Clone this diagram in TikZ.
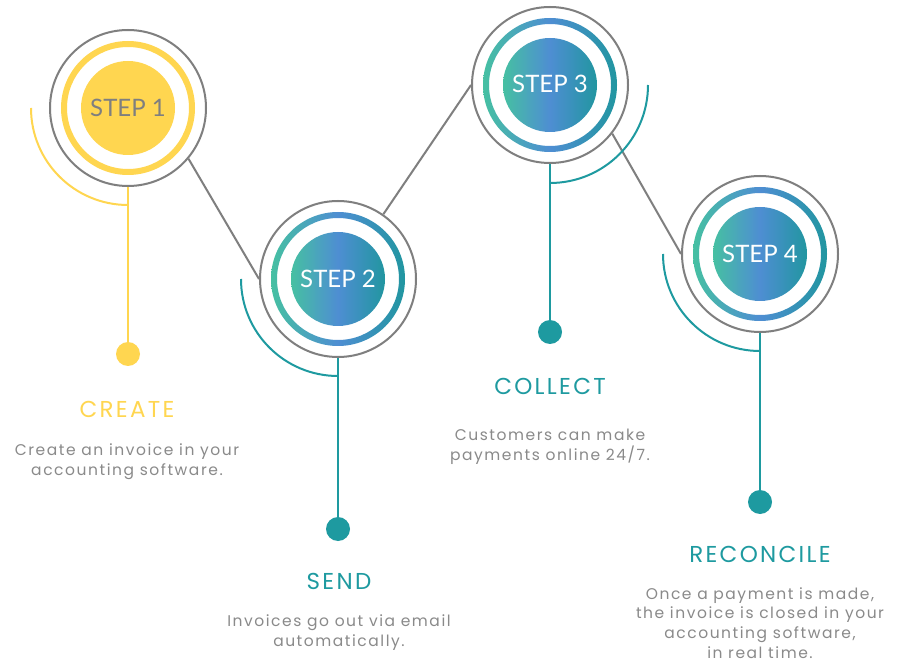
\documentclass[tikz,border=0pt]{standalone}
\usepackage{fontspec}
\setmainfont{Poppins}
\newfontfamily\stepfont{Lato}
\newfontfamily\bodyfont[LetterSpace=10]{Poppins}
\newfontfamily\titlefont[LetterSpace=10]{Poppins}
\definecolor{yel}{HTML}{FFD650}
\definecolor{tealc}{HTML}{1E9AA0}
\definecolor{ringgray}{HTML}{7F7F7F}
\definecolor{txtgray}{HTML}{8A8A8A}
\definecolor{gL}{HTML}{46C0A2}
\definecolor{gM}{HTML}{4E8ED2}
\definecolor{gR}{HTML}{2196A0}
\pgfdeclarehorizontalshading{stepgrad}{100bp}{color(0bp)=(gL); color(25bp)=(gL); color(50bp)=(gM); color(75bp)=(gR); color(100bp)=(gR)}
\begin{document}
\begin{tikzpicture}[x=1pt,y=1pt,
  outer/.style={circle, draw=ringgray, line width=2pt, minimum size=156pt, inner sep=0pt},
  conn/.style={draw=ringgray, line width=2pt},
  yline/.style={draw=yel, line width=2pt},
  tline/.style={draw=tealc, line width=2pt},
  ydot/.style={circle, fill=yel, minimum size=24pt, inner sep=0pt},
  tdot/.style={circle, fill=tealc, minimum size=24pt, inner sep=0pt},
  steplabel/.style={font={\stepfont\fontsize{24}{28}\selectfont}, inner sep=0pt},
  title/.style={font={\titlefont\fontsize{23}{27}\selectfont}, inner sep=0pt},
  body/.style={font={\bodyfont\fontsize{15.5}{19.7}\selectfont}, text=txtgray, align=center, inner sep=0pt}
]
\useasboundingbox (0,0) rectangle (899,662);
\fill[white] (0,0) rectangle (899,662);

% circles
\node[outer] (c1) at (128,554) {};
\node[outer] (c2) at (338,383) {};
\node[outer] (c3) at (550,577) {};
\node[outer] (c4) at (760,408) {};

% dots
\node[ydot] (d1) at (128,308) {};
\node[tdot] (d2) at (338,133) {};
\node[tdot] (d3) at (550,330) {};
\node[tdot] (d4) at (760,160) {};

% connectors between circles
\draw[conn] (c1.-40) -- (c2.180);
\draw[conn] (c2.55) -- (c3.180);
\draw[conn] (c3.-38) -- (c4.180);

% vertical stems
\draw[yline] (c1.south) -- (d1);
\draw[tline] (c2.south) -- (d2);
\draw[tline] (c3.south) -- (d3);
\draw[tline] (c4.south) -- (d4);

% arcs
\draw[yline] ([xshift=-97pt]c1.center) arc[start angle=180, end angle=270, radius=97];
\draw[tline] ([xshift=-97pt]c2.center) arc[start angle=180, end angle=270, radius=97];
\draw[tline] ([xshift=98pt]c3.center) arc[start angle=0, end angle=-90, radius=98];
\draw[tline] ([xshift=-97pt]c4.center) arc[start angle=180, end angle=270, radius=97];

% inner rings and disks
\fill[yel, even odd rule] (c1.center) circle (67) (c1.center) circle (61);
\fill[yel] (c1.center) circle (47);
\shade[shading=stepgrad, even odd rule] (c2.center) circle (67) (c2.center) circle (61);
\shade[shading=stepgrad] (c2.center) circle (47);
\shade[shading=stepgrad, even odd rule] (c3.center) circle (67) (c3.center) circle (61);
\shade[shading=stepgrad] (c3.center) circle (47);
\shade[shading=stepgrad, even odd rule] (c4.center) circle (67) (c4.center) circle (61);
\shade[shading=stepgrad] (c4.center) circle (47);

% step labels
\node[steplabel, text=ringgray] (s1) at (c1.center) {STEP 1};
\node[steplabel, text=white] (s2) at (c2.center) {STEP 2};
\node[steplabel, text=white] (s3) at ([yshift=1pt]c3.center) {STEP 3};
\node[steplabel, text=white] (s4) at (c4.center) {STEP 4};

% titles
\node[title, text=yel] (t1) at (127,253) {CREATE};
\node[title, text=tealc] (t2) at (339,81) {SEND};
\node[title, text=tealc] (t3) at (550,276) {COLLECT};
\node[title, text=tealc] (t4) at (760,108) {RECONCILE};

% descriptions
\node[body] (b1) at (127,200) {Create an invoice in your\\accounting software.};
\node[body] (b2) at (339,29.5) {Invoices go out via email\\automatically.};
\node[body] (b3) at (550,215.5) {Customers can make\\payments online 24/7.};
\node[body] (b4) at (760,39) {Once a payment is made,\\the invoice is closed in your\\accounting software,\\in real time.};
\end{tikzpicture}
\end{document}
